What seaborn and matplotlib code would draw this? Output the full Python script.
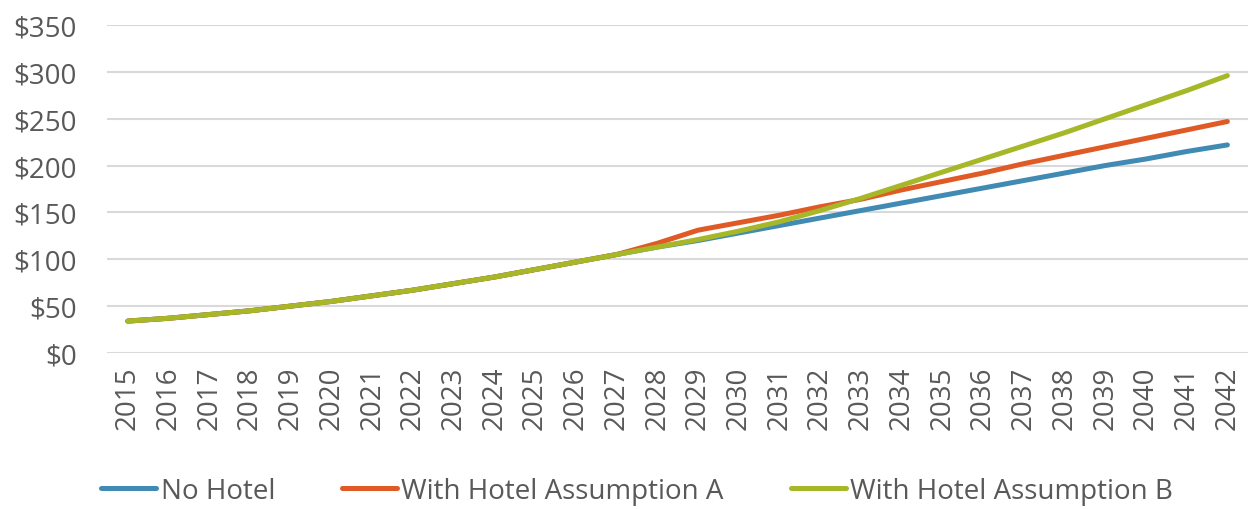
import numpy as np
import pandas as pd
import matplotlib.pyplot as plt
import seaborn as sns
from matplotlib.ticker import FuncFormatter

sns.set_theme(style="white")
plt.rcParams["font.family"] = ["Open Sans", "DejaVu Sans"]

# Values ($)
years = list(range(2015, 2043))
no_hotel = [34, 37, 41, 45, 50, 55, 61, 67, 74, 81, 89, 97, 105,
            113, 120, 128, 136, 144, 152, 160, 168, 176, 184, 192, 200, 207, 215, 222]
hotel_a = [34, 37, 41, 45, 50, 55, 61, 67, 74, 81, 89, 97, 105,
           117, 131, 139, 147, 156, 164, 174, 183, 192, 202, 211, 220, 229, 238, 247]
hotel_b = [34, 37, 41, 45, 50, 55, 61, 67, 74, 81, 89, 97, 105,
           113, 121, 130, 140, 152, 165, 179, 193, 207, 221, 235, 250, 265, 280, 296]
series_names = ["No Hotel", "With Hotel Assumption A", "With Hotel Assumption B"]
colors = ["#418AB3", "#E05A26", "#A6B727"]

df = pd.DataFrame({"Year": years * 3,
                   "Value": no_hotel + hotel_a + hotel_b,
                   "Series": np.repeat(series_names, len(years))})

fig = plt.figure(figsize=(12.49, 5.10), dpi=100)
ax = fig.add_axes([0.086, 0.306, 0.913, 0.643])
sns.lineplot(data=df, x="Year", y="Value", hue="Series", palette=colors,
             linewidth=3.6, solid_capstyle="round", legend=False, ax=ax)

ax.set_xlim(2014.5, 2042.5)
ax.set_ylim(0, 350)
ax.set_yticks(range(0, 351, 50))
ax.yaxis.set_major_formatter(FuncFormatter(lambda v, p: f"${v:.0f}"))
ax.set_xticks(years)
ax.set_xticklabels([str(y) for y in years], rotation=90)
ax.tick_params(axis="both", labelsize=20, labelcolor="#595959", length=0)
ax.tick_params(axis="x", pad=9)
ax.tick_params(axis="y", pad=22)
ax.grid(axis="y", color="#D9D9D9", linewidth=1.5)
ax.set_axisbelow(True)
for s in ax.spines.values():
    s.set_visible(False)
ax.set_xlabel("")
ax.set_ylabel("")

handles = [plt.Line2D([], [], color=c, linewidth=3.6, solid_capstyle="round") for c in colors]
fig.legend(handles, series_names, loc="center", bbox_to_anchor=(0.51, 0.035), ncol=3,
           frameon=False, fontsize=20, handlelength=2.0, handletextpad=0.15,
           columnspacing=2.4, labelcolor="#595959")

fig.savefig("out.png", dpi=100)
